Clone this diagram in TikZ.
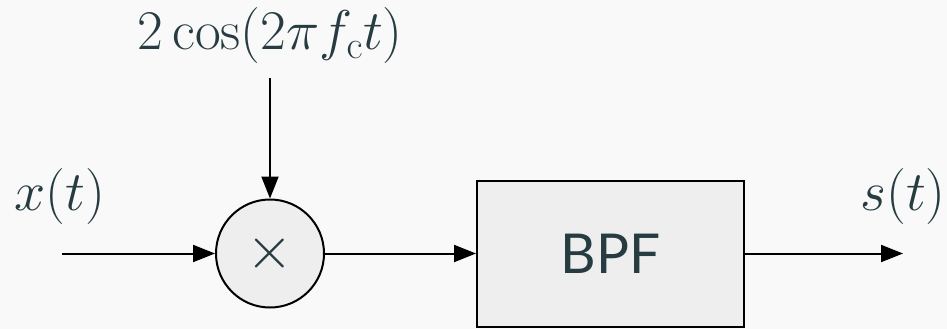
\documentclass[tikz,border=0pt]{standalone}
\usepackage{fix-cm}
\usepackage[no-math]{fontspec}
\setsansfont{Lato}
\usetikzlibrary{arrows.meta}
\definecolor{bgc}{HTML}{F9F9F9}
\definecolor{ink}{HTML}{263C41}
\definecolor{blockfill}{HTML}{EEEEEE}
\tikzset{
  x=1pt, y=-1pt,
  sig/.style={draw=black, line width=2pt, -{Triangle[length=22pt,width=17pt]}},
  mixer/.style={circle, draw=black, line width=2pt, fill=blockfill, minimum size=108pt, inner sep=0pt, text=ink},
  filterbox/.style={rectangle, draw=black, line width=2pt, fill=blockfill, minimum width=267pt, minimum height=146pt, inner sep=0pt, text=ink, font=\sffamily\fontsize{55}{66}\selectfont},
  lbl/.style={text=ink, inner sep=0pt, font=\fontsize{56}{67}\selectfont}
}
\begin{document}
\begin{tikzpicture}
  \fill[bgc] (0,0) rectangle (947,329);
  \useasboundingbox (0,0) rectangle (947,329);
  % blocks
  \node[mixer] (mix) at (270,253.5) {\fontsize{60}{72}\selectfont$\times$};
  \node[filterbox] (bpf) at (610.5,253.5) {BPF};
  % free ends of the signal lines
  \coordinate (in) at (62,253.5);
  \coordinate (lo) at (270,78);
  \coordinate (out) at (903,253.5);
  % labels
  \node[lbl] (xlab) at (60,196) {$x(t)$};
  \node[lbl] (slab) at (903,196) {$s(t)$};
  \node[lbl] (lolab) at (270,36) {$2\cos(2\pi f_{\mathrm{c}}t)$};
  % connections
  \draw[sig] (in) -- (mix.west);
  \draw[sig] (lo) -- (mix.north);
  \draw[sig] (mix.east) -- (bpf.west);
  \draw[sig] (bpf.east) -- (out);
\end{tikzpicture}
\end{document}
